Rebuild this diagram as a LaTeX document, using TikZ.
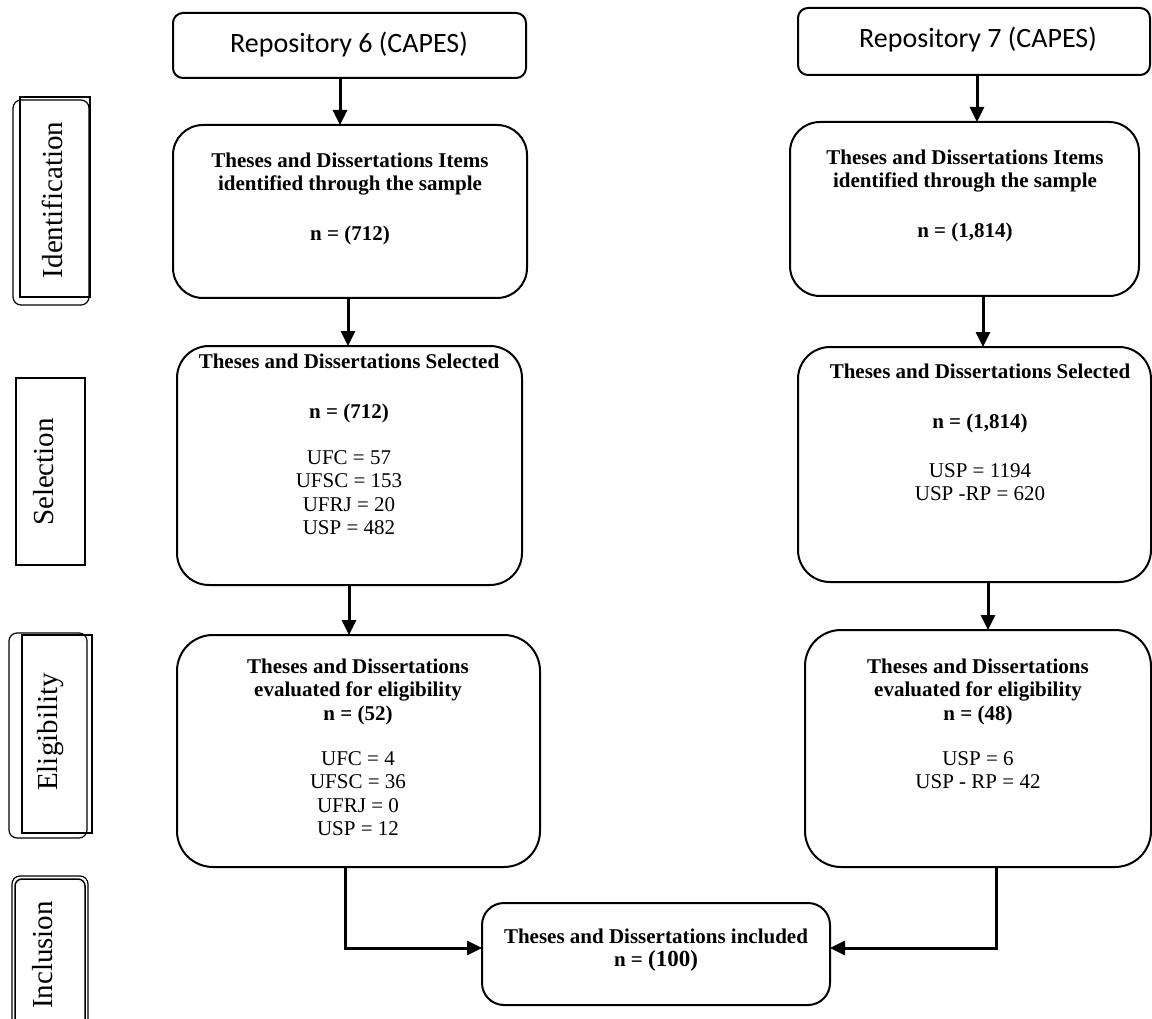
\documentclass[tikz,border=0pt]{standalone}
\usepackage{fontspec}
\setmainfont{Liberation Serif}
\newfontfamily\carlitofont{Carlito}
\usetikzlibrary{arrows.meta}
\newcommand{\mkbox}[6]{%
  \node[boxline, rounded corners=#6, minimum width={#4-#2}, minimum height={#5-#3}] (#1) at ({(#2+#4)/2},{(#3+#5)/2}) {};}
\begin{document}
\begin{tikzpicture}[x=1pt,y=-1pt,
  boxline/.style={draw, line width=2pt, inner sep=0pt, outer sep=0pt},
  arr/.style={line width=3pt, -{Triangle[length=15pt,width=14pt]}},
  txt/.style={align=center, inner sep=0pt, anchor=north, font=\fontsize{21}{23.5}\selectfont},
  repotxt/.style={inner sep=0pt, anchor=base, font=\carlitofont\fontsize{28}{32}\selectfont},
  sidetxt/.style={inner sep=0pt, rotate=90, font=\fontsize{29}{32}\selectfont},
  thinline/.style={line width=1.2pt},
  thickline/.style={line width=2.2pt}]
\useasboundingbox (0,0) rectangle (1152,1019);

% side labels
\draw[thinline, rounded corners=8pt] (13,100) rectangle (89,305);
\draw[thickline] (20,97) rectangle (90,297);
\node[sidetxt] (lid) at (52,200) {Identification};

\draw[thinline] (16,378) rectangle (85,565);
\node[sidetxt] (lsel) at (44,472) {Selection};

\draw[thinline, rounded corners=8pt] (9,633) rectangle (87,838);
\draw[thickline] (22,635) rectangle (92,833);
\node[sidetxt] (lelig) at (50.5,732) {Eligibility};

\draw[thinline, rounded corners=8pt] (12,1030) -- (12,876) -- (88,876) -- (88,1030);
\draw[line width=1.5pt, rounded corners=7pt] (15,1030) -- (15,879) -- (85,879) -- (85,1030);
\node[sidetxt] (lincl) at (43,955) {Inclusion};

% boxes
\mkbox{r6}{173}{13}{526}{78}{10pt}
\mkbox{r7}{798}{8}{1150}{75}{10pt}
\mkbox{id6}{173}{125}{527}{298}{30pt}
\mkbox{id7}{790}{122}{1139}{296}{30pt}
\mkbox{sel6}{177}{346}{522}{585}{32pt}
\mkbox{sel7}{798}{347}{1151}{582}{32pt}
\mkbox{el6}{177}{635}{540}{867}{36pt}
\mkbox{el7}{805}{630}{1151}{867}{36pt}
\mkbox{inc}{482}{903}{830}{1005}{22pt}

% texts
\node[repotxt] (t6) at (349,53) {Repository 6 (CAPES)};
\node[repotxt] (t7) at (978,48) {Repository 7 (CAPES)};

\node[txt] (tid6) at (350,{167-14.3}) {\bfseries Theses and Dissertations Items\\\bfseries identified through the sample\\[26pt]\bfseries n = (712)};
\node[txt] (tid7) at (965,{164-14.3}) {\bfseries Theses and Dissertations Items\\\bfseries identified through the sample\\[26pt]\bfseries n = (1,814)};

\node[txt] (tsel6) at (349,{368-14.3}) {\bfseries Theses and Dissertations Selected\\[26.5pt]\bfseries n = (712)\\[22.5pt]UFC = 57\\UFSC = 153\\UFRJ = 20\\USP = 482};
\node[txt] (tsel7) at (980,{378-14.3}) {\bfseries Theses and Dissertations Selected\\[26.5pt]\bfseries n = (1,814)\\[25.5pt]USP = 1194\\USP -RP = 620};

\node[txt] (tel6) at (358,{673-14.3}) {\bfseries Theses and Dissertations\\\bfseries evaluated for eligibility\\\bfseries n = (52)\\[21.5pt]UFC = 4\\UFSC = 36\\UFRJ = 0\\USP = 12};
\node[txt] (tel7) at (978,{673-14.3}) {\bfseries Theses and Dissertations\\\bfseries evaluated for eligibility\\\bfseries n = (48)\\[21.5pt]USP = 6\\USP - RP = 42};

\node[txt] (tinc) at (656,{943-14.3}) {\bfseries Theses and Dissertations included\\\bfseries n = {\fontsize{23}{23.5}\selectfont(100)}};

% arrows
\draw[arr] (340,0 |- r6.south) -- (340,0 |- id6.north);
\draw[arr] (348,0 |- id6.south) -- (348,0 |- sel6.north);
\draw[arr] (349,0 |- sel6.south) -- (349,0 |- el6.north);
\draw[arr] (977,0 |- r7.south) -- (977,0 |- id7.north);
\draw[arr] (983,0 |- id7.south) -- (983,0 |- sel7.north);
\draw[arr] (988,0 |- sel7.south) -- (988,0 |- el7.north);
\draw[arr] (345,0 |- el6.south) |- (inc.west |- 0,948);
\draw[arr] (996,0 |- el7.south) |- (inc.east |- 0,948);
\end{tikzpicture}
\end{document}
